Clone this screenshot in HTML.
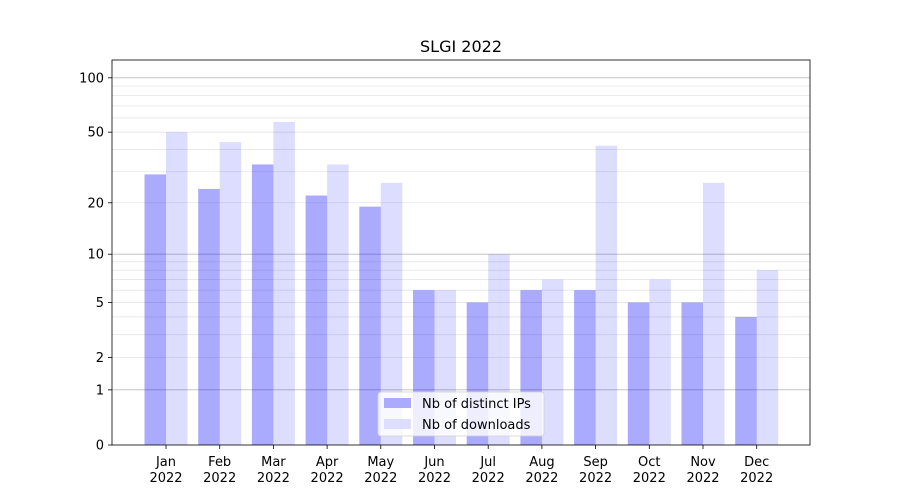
<!DOCTYPE html>
<html><head><meta charset="utf-8"><style>
body{margin:0;background:#fff;}
svg{display:block;font-family:"DejaVu Sans","Liberation Sans",sans-serif;}
</style></head><body>
<svg id="s" width="900" height="500" xmlns="http://www.w3.org/2000/svg"></svg>
<script>
const s=document.getElementById('s');
const K=183.2,B=445;
const Y=v=>B-K*Math.log10(1+v);
let h='';
h+='<rect width="900" height="500" fill="#fff"/>';
const minors=[2,3,4,5,6,7,8,9,20,30,40,50,60,70,80,90];
minors.forEach(v=>{h+=`<line x1="112" x2="810" y1="${Y(v)}" y2="${Y(v)}" stroke="#e6e6e6" stroke-width="0.8"/>`;});
[1,10,100].forEach(v=>{h+=`<line x1="112" x2="810" y1="${Y(v)}" y2="${Y(v)}" stroke="#bcbcbc" stroke-width="0.9"/>`;});
const ip=[29,24,33,22,19,6,5,6,6,5,5,4];
const dl=[50,44,57,33,26,6,10,7,42,7,26,8];
const m=['Jan','Feb','Mar','Apr','May','Jun','Jul','Aug','Sep','Oct','Nov','Dec'];
for(let i=0;i<12;i++){
 const c=166+i*53.7;
 h+=`<rect x="${c-21.5}" y="${Y(ip[i])}" width="21.5" height="${B-Y(ip[i])}" fill="#0000ff" fill-opacity="0.333"/>`;
 h+=`<rect x="${c}" y="${Y(dl[i])}" width="21.5" height="${B-Y(dl[i])}" fill="#0000ff" fill-opacity="0.133"/>`;
 h+=`<line x1="${c}" x2="${c}" y1="445" y2="449" stroke="#000" stroke-width="0.8"/>`;
 h+=`<text x="${c}" y="466" font-size="13" text-anchor="middle">${m[i]}</text>`;
 h+=`<text x="${c}" y="482" font-size="13" text-anchor="middle">2022</text>`;
}
[0,1,2,5,10,20,50,100].forEach(v=>{
 h+=`<line x1="108" x2="112" y1="${Y(v)}" y2="${Y(v)}" stroke="#000" stroke-width="0.8"/>`;
 h+=`<text x="104" y="${Y(v)+4.5}" font-size="13" text-anchor="end">${v}</text>`;
});
h+='<rect x="112" y="60" width="698" height="385" fill="none" stroke="#000" stroke-width="0.8"/>';
h+='<text x="461" y="52" font-size="16" text-anchor="middle">SLGI 2022</text>';
h+='<rect x="378" y="392" width="166" height="44" rx="3" fill="#fff" fill-opacity="0.8" stroke="#d0d0d0" stroke-width="0.8"/>';
h+='<rect x="384" y="398" width="27" height="10" fill="#aaaaff"/>';
h+='<text x="422" y="408" font-size="13">Nb of distinct IPs</text>';
h+='<rect x="384" y="419" width="27" height="10" fill="#ddddff"/>';
h+='<text x="422" y="429" font-size="13">Nb of downloads</text>';
s.innerHTML=h;
</script>
</body></html>
